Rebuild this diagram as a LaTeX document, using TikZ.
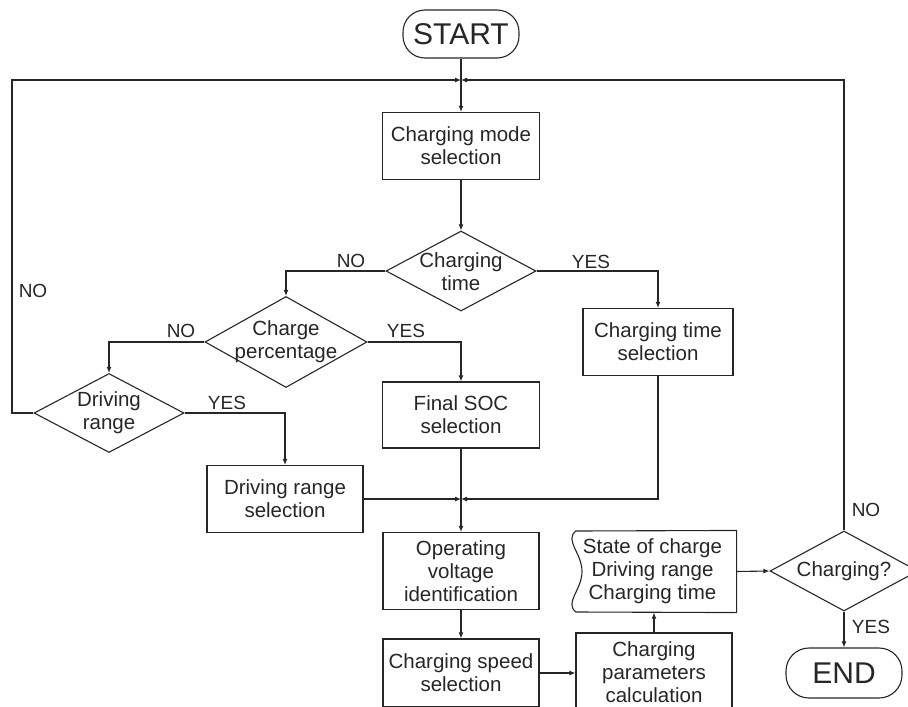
\documentclass[tikz,border=0pt]{standalone}
\usepackage{fontspec}
\setmainfont{Liberation Sans}
\usetikzlibrary{shapes.geometric,arrows.meta,calc}
\begin{document}
\begin{tikzpicture}[x=1pt,y=-1pt,
  line width=1.1pt, color=black!85,
  box/.style={draw, rectangle, align=center, inner sep=0pt, font=\fontsize{20.5}{23}\selectfont},
  dia/.style={draw, diamond, inner sep=0pt},
  dtext/.style={align=center, inner sep=0pt, font=\fontsize{20.5}{23}\selectfont},
  lab/.style={inner sep=0pt, font=\fontsize{19}{22}\selectfont},
  term/.style={draw, rectangle, inner sep=0pt, font=\fontsize{30}{32}\selectfont},
  arr/.style={-{Latex[length=6pt,width=5pt]}}]
\useasboundingbox (0,0) rectangle (908,707);

% terminals
\node[term, minimum width=116pt, minimum height=48pt, rounded corners=22pt] (start) at (461,34) {START};
\node[term, minimum width=116pt, minimum height=50pt, rounded corners=23pt] (end) at (844,673) {END};

% boxes
\node[box, minimum width=157pt, minimum height=67pt] (mode) at (461,146) {Charging mode\\selection};
\node[box, minimum width=150pt, minimum height=67pt] (cts) at (658,342) {Charging time\\selection};
\node[box, minimum width=157pt, minimum height=66pt] (soc) at (461,415) {Final SOC\\selection};
\node[box, minimum width=156pt, minimum height=67pt] (drs) at (285,499) {Driving range\\selection};
\node[box, minimum width=156pt, minimum height=77pt] (opv) at (461,571) {Operating\\voltage\\identification};
\node[box, minimum width=156pt, minimum height=68pt] (speed) at (461,673) {Charging speed\\selection};
\node[box, minimum width=156pt, minimum height=78pt] (calc) at (654,672) {Charging\\parameters\\calculation};

% diamonds
\node[dia, minimum width=150pt, minimum height=80pt] (ct) at (461,271) {};
\node[dtext] (ct-t) at (461,272) {Charging\\time};
\node[dia, minimum width=162pt, minimum height=91pt] (cp) at (286,342) {};
\node[dtext] (cp-t) at (286,342) {Charge\\percentage};
\node[dia, minimum width=150pt, minimum height=79pt] (dr) at (109,413) {};
\node[dtext] (dr-t) at (109,413) {Driving\\range};
\node[dia, minimum width=148pt, minimum height=80pt] (ch) at (844,571) {};
\node[dtext] (ch-t) at (844,571) {Charging?};

% data shape
\node[dtext, minimum width=167pt, minimum height=81pt] (data) at (652.5,571.5) {State of charge\\Driving range\\Charging time};
\draw (576,531) -- (data.north east) -- (data.south east) -- (576,612)
  .. controls (564,603) and (582,590) .. (582,571.5)
  .. controls (582,553) and (564,540) .. (576,531) -- cycle;

% junctions
\coordinate (j1) at (461,80);
\coordinate (lc) at (12,80);
\coordinate (rc) at (844,80);
\coordinate (j2) at (461,499);

% connectors
\draw[arr] (start.south) -- (mode.north);
\draw[arr] (dr.west) -| (lc) -- (j1);
\draw[arr] (ch.north) -- (rc) -- (j1);
\draw[arr] (mode.south) -- (ct.north);
\draw[arr] (ct.west) -| (cp.north);
\draw[arr] (ct.east) -| (cts.north);
\draw[arr] (cp.west) -| (dr.north);
\draw[arr] (cp.east) -| (soc.north);
\draw[arr] (dr.east) -| (drs.north);
\draw[arr] (soc.south) -- (opv.north);
\draw[arr] (drs.east) -- (j2);
\draw[arr] (cts.south) |- (j2);
\draw[arr] (opv.south) -- (speed.north);
\draw[arr] (speed.east) -- (speed.east -| calc.west);
\draw[arr] (calc.north) -- (calc.north |- data.south);
\draw[arr] (data.east) -- (ch.west);
\draw[arr] (ch.south) -- (end.north);

% labels
\node[lab] (l1) at (351,261) {NO};
\node[lab] (l2) at (591,262) {YES};
\node[lab] (l3) at (181,331) {NO};
\node[lab] (l4) at (406,331) {YES};
\node[lab] (l5) at (33,291) {NO};
\node[lab] (l6) at (227,403) {YES};
\node[lab] (l7) at (866,510) {NO};
\node[lab] (l8) at (871,627) {YES};
\end{tikzpicture}
\end{document}
